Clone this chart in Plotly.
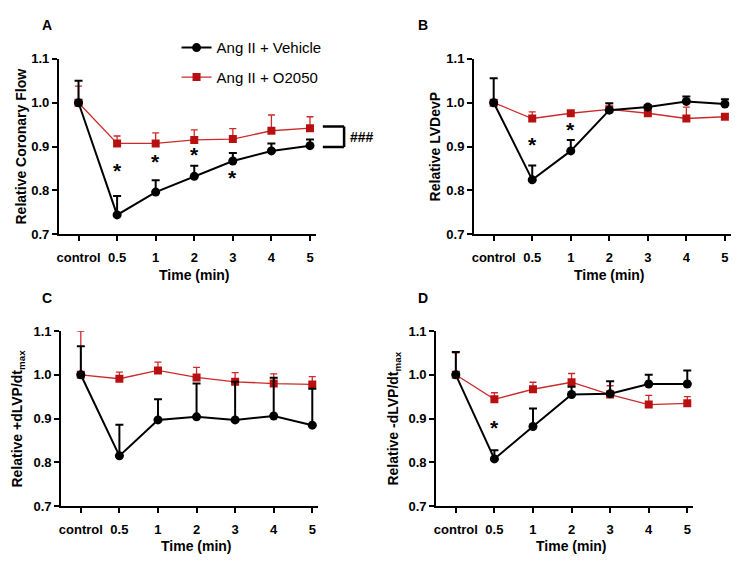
import plotly.graph_objects as go

W, H = 754, 572
times = ["control", "0.5", "1", "2", "3", "4", "5"]
xpos = list(range(len(times)))

# Panel A: Relative Coronary Flow
a_veh = [1.000, 0.744, 0.796, 0.832, 0.867, 0.890, 0.902]
a_veh_err = [0.050, 0.043, 0.027, 0.024, 0.018, 0.017, 0.014]
a_o2 = [1.000, 0.907, 0.907, 0.915, 0.917, 0.936, 0.942]
a_o2_err = [0.038, 0.017, 0.024, 0.023, 0.024, 0.036, 0.026]

# Panel B: Relative LVDevP
b_veh = [1.000, 0.824, 0.890, 0.983, 0.990, 1.003, 0.997]
b_veh_err = [0.056, 0.033, 0.025, 0.016, 0.004, 0.011, 0.011]
b_o2 = [1.000, 0.964, 0.976, 0.985, 0.976, 0.964, 0.968]
b_o2_err = [0.004, 0.015, 0.005, 0.013, 0.005, 0.026, 0.006]

# Panel C: Relative +dLVP/dt max
c_veh = [1.000, 0.815, 0.897, 0.904, 0.897, 0.906, 0.885]
c_veh_err = [0.065, 0.071, 0.047, 0.076, 0.087, 0.087, 0.083]
c_o2 = [1.000, 0.991, 1.010, 0.994, 0.984, 0.980, 0.978]
c_o2_err = [0.100, 0.015, 0.019, 0.023, 0.021, 0.022, 0.018]

# Panel D: Relative -dLVP/dt max
d_veh = [1.000, 0.808, 0.882, 0.955, 0.957, 0.979, 0.979]
d_veh_err = [0.052, 0.020, 0.041, 0.018, 0.028, 0.021, 0.031]
d_o2 = [1.000, 0.944, 0.967, 0.983, 0.955, 0.932, 0.935]
d_o2_err = [0.050, 0.015, 0.016, 0.020, 0.020, 0.021, 0.015]

# significance asterisks (category, y)
a_stars = [("0.5", 0.845), ("1", 0.865), ("2", 0.881), ("3", 0.830)]
b_stars = [("0.5", 0.905), ("1", 0.938)]
d_stars = [("0.5", 0.880)]

panels = [
    dict(veh=a_veh, veh_err=a_veh_err, o2=a_o2, o2_err=a_o2_err, stars=a_stars,
         title="Relative Coronary Flow", label="A"),
    dict(veh=b_veh, veh_err=b_veh_err, o2=b_o2, o2_err=b_o2_err, stars=b_stars,
         title="Relative LVDevP", label="B"),
    dict(veh=c_veh, veh_err=c_veh_err, o2=c_o2, o2_err=c_o2_err, stars=[],
         title="Relative +dLVP/dt<sub>max</sub>", label="C"),
    dict(veh=d_veh, veh_err=d_veh_err, o2=d_o2, o2_err=d_o2_err, stars=d_stars,
         title="Relative -dLVP/dt<sub>max</sub>", label="D"),
]

# layout in pixels
xdom_px = [(57, 315), (473.3, 731), (59.3, 317.3), (435.3, 693.3)]
ydom_px = [(53.3, 233.3), (53.3, 233.3), (332.7, 512.7), (332.7, 512.7)]
ytitle_x = [19, 434, 16, 393]
label_xy = [(45, 18), (422, 18), (45, 299), (422, 299)]
xtitle_y = [275, 275, 554, 554]

FONT = "Arial, Liberation Sans, Helvetica, sans-serif"
RED = "#B81010"
RED_LINE = "#CC2A2A"

fig = go.Figure()
annotations = []
shapes = []

for i, p in enumerate(panels):
    xa = "x" if i == 0 else f"x{i+1}"
    ya = "y" if i == 0 else f"y{i+1}"
    fig.add_trace(go.Scatter(
        x=xpos, y=p["o2"], xaxis=xa, yaxis=ya, mode="lines+markers",
        name="Ang II + O2050", showlegend=(i == 0), legendrank=2, legendgroup="o2",
        line=dict(color=RED_LINE, width=1.3),
        marker=dict(symbol="square", size=8, color=RED),
        error_y=dict(type="data", array=p["o2_err"], arrayminus=[0] * 7,
                     symmetric=False, color=RED_LINE, thickness=1.3, width=3.5),
    ))
    fig.add_trace(go.Scatter(
        x=xpos, y=p["veh"], xaxis=xa, yaxis=ya, mode="lines+markers",
        name="Ang II + Vehicle", showlegend=(i == 0), legendrank=1, legendgroup="veh",
        line=dict(color="black", width=2),
        marker=dict(symbol="circle", size=9, color="black"),
        error_y=dict(type="data", array=p["veh_err"], arrayminus=[0] * 7,
                     symmetric=False, color="black", thickness=2, width=4),
    ))
    x0, x1 = xdom_px[i]
    y0, y1 = ydom_px[i]
    axis_common = dict(showline=True, linecolor="black", linewidth=2,
                       ticks="outside", ticklen=5, tickwidth=2, tickcolor="black",
                       showgrid=False, zeroline=False,
                       tickfont=dict(family=FONT, size=13, color="black", weight="bold"))
    fig.update_layout(**{
        ("xaxis" if i == 0 else f"xaxis{i+1}"): dict(
            domain=[x0 / W, x1 / W], anchor=ya,
            tickvals=xpos, ticktext=times, ticklabelstandoff=5,
            range=[-0.51, 6.16], **axis_common),
        ("yaxis" if i == 0 else f"yaxis{i+1}"): dict(
            domain=[1 - y1 / H, 1 - y0 / H], anchor=xa,
            range=[0.7, 1.1], tickvals=[0.7, 0.8, 0.9, 1.0, 1.1],
            ticktext=["0.7", "0.8", "0.9", "1.0", "1.1"], **axis_common),
    })
    # axis titles
    annotations.append(dict(
        x=ytitle_x[i] / W, y=1 - (y0 + y1) / 2 / H, xref="paper", yref="paper",
        text=p["title"], textangle=-90, showarrow=False,
        font=dict(family=FONT, size=14, color="black", weight="bold"),
        xanchor="center", yanchor="middle"))
    annotations.append(dict(
        x=(x0 + 19.7 + x0 + 19.7 + 6 * 38.7) / 2 / W, y=1 - xtitle_y[i] / H,
        xref="paper", yref="paper", text="Time (min)", showarrow=False,
        font=dict(family=FONT, size=14, color="black", weight="bold"),
        xanchor="center", yanchor="middle"))
    annotations.append(dict(
        x=label_xy[i][0] / W, y=1 - label_xy[i][1] / H, xref="paper", yref="paper",
        text=p["label"], showarrow=False,
        font=dict(family=FONT, size=14, color="black", weight="bold"),
        xanchor="center", yanchor="middle"))
    for (cx, cy) in p["stars"]:
        annotations.append(dict(
            x=times.index(cx), y=cy, xref=xa, yref=ya, text="*", showarrow=False,
            font=dict(family=FONT, size=21, color="black", weight="bold"),
            xanchor="center", yanchor="middle", yshift=0))

# bracket and ### in panel A
bx0, bx1 = 321.7 / W, 343 / W
btop, bbot = 0.946, 0.899
for (xa0, ya0, xa1, ya1) in [(bx0, btop, bx1, btop), (bx1, btop, bx1, bbot), (bx0, bbot, bx1, bbot)]:
    shapes.append(dict(type="line", xref="paper", yref="y", x0=xa0, y0=ya0, x1=xa1, y1=ya1,
                       line=dict(color="black", width=2.5)))
annotations.append(dict(x=347 / W, y=(btop + bbot) / 2, xref="paper", yref="y",
                        text="###", showarrow=False, xanchor="left", yanchor="middle",
                        font=dict(family=FONT, size=14, color="black", weight="bold")))

fig.update_layout(
    width=W, height=H, margin=dict(l=0, r=0, t=0, b=0),
    paper_bgcolor="white", plot_bgcolor="white",
    annotations=annotations, shapes=shapes,
    showlegend=True,
    legend=dict(x=175 / W, y=1 - 25 / H, xanchor="left", yanchor="top",
                traceorder="grouped", tracegroupgap=7,
                bgcolor="rgba(0,0,0,0)", borderwidth=0,
                font=dict(family=FONT, size=15, color="black"),
                itemwidth=30),
)

fig.write_html("out.html", config={"displayModeBar": False},
               post_script="document.body.style.margin='0px';")
